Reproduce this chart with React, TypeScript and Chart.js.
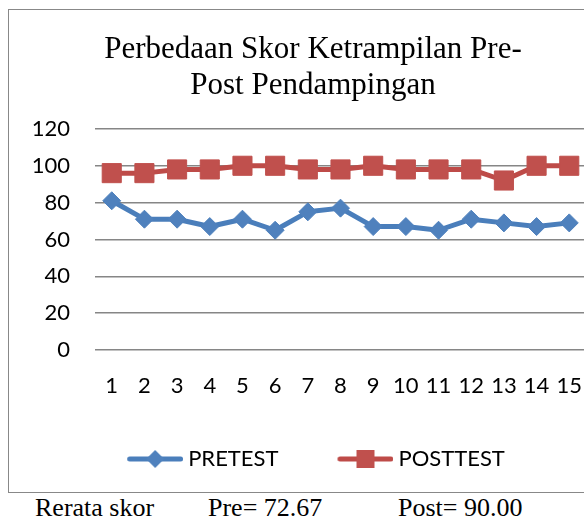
import React, { useEffect, useRef } from 'react';
import { Chart, registerables } from 'chart.js';

Chart.register(...registerables);

if (typeof document !== 'undefined') {
  document.documentElement.style.overflow = 'hidden';
}

const categories = ['1', '2', '3', '4', '5', '6', '7', '8', '9', '10', '11', '12', '13', '14', '15'];
const pretest = [81, 71, 71, 67, 71, 65, 75, 77, 67, 67, 65, 71, 69, 67, 69];
const posttest = [96, 96, 98, 98, 100, 100, 98, 98, 100, 98, 98, 98, 92, 100, 100];
const yTicks = [0, 20, 40, 60, 80, 100, 120];
const seriesNames = ['PRETEST', 'POSTTEST'];
const titleLines = ['Perbedaan Skor Ketrampilan Pre-', 'Post Pendampingan'];
const footerLabel = 'Rerata skor';
const footerPre = 'Pre= 72.67';
const footerPost = 'Post= 90.00';

const BLUE_LINE = '#4A7EBB';
const BLUE_MARK = '#4F81BD';
const RED_LINE = '#BE4B48';
const RED_MARK = '#C0504D';

function legendImage(lineColor: string, markColor: string, kind: 'diamond' | 'square') {
  const c = document.createElement('canvas');
  c.width = 68;
  c.height = 24;
  const ctx = c.getContext('2d')!;
  ctx.strokeStyle = lineColor;
  ctx.lineWidth = 5;
  ctx.lineCap = 'round';
  ctx.beginPath();
  ctx.moveTo(14.5, 12);
  ctx.lineTo(65.5, 12);
  ctx.stroke();
  ctx.fillStyle = markColor;
  ctx.beginPath();
  if (kind === 'diamond') {
    ctx.moveTo(40, 3);
    ctx.lineTo(49, 12);
    ctx.lineTo(40, 21);
    ctx.lineTo(31, 12);
    ctx.closePath();
  } else {
    ctx.rect(31, 3, 18, 18);
  }
  ctx.fill();
  return c;
}

const widenYAxis = {
  id: 'widenYAxis',
  afterLayout(chart: any) {
    const y = chart.scales.y;
    if (y) y.left = 0;
  },
};

export default function App() {
  const ref = useRef<HTMLCanvasElement>(null);

  useEffect(() => {
    const canvas = ref.current!;
    const imgs = [
      legendImage(BLUE_LINE, BLUE_MARK, 'diamond'),
      legendImage(RED_LINE, RED_MARK, 'square'),
    ];
    const tickFont = { family: 'Lato', size: 22 };
    const chart = new Chart(canvas, {
      type: 'line',
      data: {
        labels: categories,
        datasets: [
          {
            label: seriesNames[0],
            data: pretest,
            borderColor: BLUE_LINE,
            backgroundColor: BLUE_MARK,
            borderWidth: 5,
            borderJoinStyle: 'round',
            borderCapStyle: 'round',
            pointStyle: 'rectRot',
            pointRadius: 9,
            pointBorderWidth: 1,
            pointBorderColor: BLUE_MARK,
            pointBackgroundColor: BLUE_MARK,
            tension: 0,
          },
          {
            label: seriesNames[1],
            data: posttest,
            borderColor: RED_LINE,
            backgroundColor: RED_MARK,
            borderWidth: 5,
            borderJoinStyle: 'round',
            borderCapStyle: 'round',
            pointStyle: 'rect',
            pointRadius: 13.5,
            pointBorderWidth: 1,
            pointBorderColor: RED_MARK,
            pointBackgroundColor: RED_MARK,
            tension: 0,
          },
        ],
      },
      options: {
        responsive: false,
        devicePixelRatio: 1,
        animation: false,
        events: [],
        layout: { padding: { left: 31.4, right: 31.4, top: 0, bottom: 12 } },
        scales: {
          x: {
            type: 'category',
            offset: true,
            grid: { display: false, drawTicks: false },
            border: { display: false },
            ticks: {
              font: tickFont,
              color: '#000',
              padding: 22.6,
              autoSkip: false,
              maxRotation: 0,
              minRotation: 0,
            },
            afterFit: (s: any) => {
              s.height = 45;
            },
          },
          y: {
            min: 0,
            max: 120,
            grid: { color: '#868686', lineWidth: 1.6, drawTicks: false },
            border: { display: false },
            ticks: { font: tickFont, color: '#000', padding: 25.4, stepSize: 20 },
            afterBuildTicks: (s: any) => {
              s.ticks = yTicks.map((v) => ({ value: v }));
            },
            afterFit: (s: any) => {
              s.width = 55;
            },
          },
        },
        plugins: {
          tooltip: { enabled: false },
          title: {
            display: true,
            text: titleLines,
            color: '#000',
            font: { family: 'Liberation Serif', size: 31, weight: 'normal', lineHeight: 1.16 },
            padding: { top: 21.8, bottom: 25.2 },
          },
          legend: {
            display: true,
            position: 'bottom',
            labels: {
              usePointStyle: true,
              pointStyleWidth: 56,
              padding: 53,
              color: '#000',
              font: tickFont,
              generateLabels: (ch: any) => {
                const items = (Chart.defaults.plugins.legend.labels as any).generateLabels(ch);
                items.forEach((it: any, i: number) => {
                  it.pointStyle = imgs[i];
                });
                return items;
              },
            },
          },
        },
      } as any,
      plugins: [widenYAxis],
    });
    return () => chart.destroy();
  }, []);

  const footStyle: React.CSSProperties = {
    position: 'absolute',
    top: 495,
    fontFamily: 'Liberation Serif',
    fontSize: 26,
    lineHeight: '26px',
    color: '#000',
    whiteSpace: 'pre',
  };

  return (
    <div
      style={{
        position: 'fixed',
        left: 0,
        top: 0,
        width: 584,
        height: 522,
        overflow: 'hidden',
        background: '#fff',
      }}
    >
      <div
        style={{
          position: 'absolute',
          left: 8,
          top: 9,
          width: 610,
          height: 484,
          border: '1px solid #888',
          boxSizing: 'border-box',
        }}
      >
        <canvas ref={ref} width={608} height={482} style={{ display: 'block', width: 608, height: 482 }} />
      </div>
      <div style={{ ...footStyle, left: 35 }}>{footerLabel}</div>
      <div style={{ ...footStyle, left: 208 }}>{footerPre}</div>
      <div style={{ ...footStyle, left: 398 }}>{footerPost}</div>
    </div>
  );
}
